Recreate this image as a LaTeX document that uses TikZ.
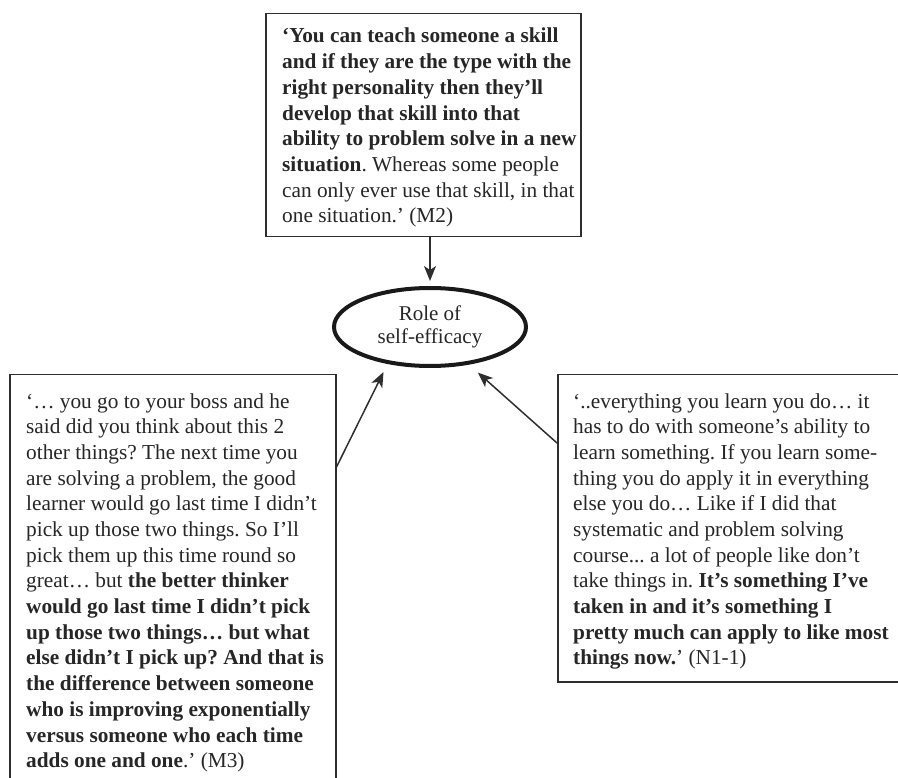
\documentclass[tikz,border=0pt]{standalone}
\usepackage{fontspec}
\setmainfont{Liberation Serif}
\usetikzlibrary{shapes.geometric,arrows.meta}
\definecolor{ink}{HTML}{262626}
\definecolor{frame}{HTML}{2e2e2e}
\frenchspacing

\tikzset{
  quotebox/.style={draw=frame, line width=1.5pt, inner sep=0pt, anchor=north west},
  quotetext/.style={anchor=base west, inner sep=0pt, text=ink,
    font=\fontsize{21.3}{25.7}\selectfont},
  themenode/.style={ellipse, draw=black!90, line width=4pt, inner sep=0pt,
    minimum width=192pt, minimum height=78pt, text=ink, align=center,
    font=\fontsize{21}{23}\selectfont},
  link/.style={draw=frame, line width=1.5pt,
    -{Stealth[length=15pt,width=12pt,inset=4pt]}}
}

\begin{document}
\begin{tikzpicture}[x=1pt,y=-1pt]
\useasboundingbox (0,0) rectangle (898,778);
\clip (0,0) rectangle (898,778);

% central theme
\node[themenode] (role) at (430,327) {Role of\\self-efficacy};

% quotation boxes
\node[quotebox, minimum width=315pt, minimum height=223pt] (top) at (265,13) {};
\node[quotebox, minimum width=326pt, minimum height=440pt] (lbox) at (9,374) {};
\node[quotebox, minimum width=400pt, minimum height=307pt] (rbox) at (557,374) {};

\node[quotetext] (toptext) at ([xshift=17pt,yshift=-30pt]top.north west)
{\parbox[t]{330pt}{\raggedright
\textbf{‘You can teach someone a skill\\
and if they are the type with the\\
right personality then they’ll\\
develop that skill into that\\
ability to problem solve in a new\\
situation}. Whereas some people\\
can only ever use that skill, in that\\
one situation.’ (M2)}};

\node[quotetext] (ltext) at ([xshift=17pt,yshift=-34pt]lbox.north west)
{\parbox[t]{340pt}{\raggedright
‘… you go to your boss and he\\
said did you think about this 2\\
other things? The next time you\\
are solving a problem, the good\\
learner would go last time I didn’t\\
pick up those two things. So I’ll\\
pick them up this time round so\\
great… but \textbf{the better thinker\\
would go last time I didn’t pick\\
up those two things… but what\\
else didn’t I pick up? And that is\\
the difference between someone\\
who is improving exponentially\\
versus someone who each time\\
adds one and one}.’ (M3)}};

\node[quotetext] (rtext) at ([xshift=16pt,yshift=-34pt]rbox.north west)
{\parbox[t]{340pt}{\raggedright
‘..everything you learn you do… it\\
has to do with someone’s ability to\\
learn something. If you learn some-\\
thing you do apply it in everything\\
else you do… Like if I did that\\
systematic and problem solving\\
course... a lot of people like don’t\\
take things in. \textbf{It’s something I’ve\\
taken in and it’s something I\\
pretty much can apply to like most\\
things now.}’ (N1-1)}};

% connectors into the theme
\draw[link, shorten >=5pt] (role.north |- top.south) -- (role.north);
\draw[link, shorten >=9pt] ([yshift=-93pt]lbox.north east) -- (role.221);
\draw[link, shorten >=12pt] ([yshift=-69pt]rbox.north west) -- (role.316);
\end{tikzpicture}
\end{document}
